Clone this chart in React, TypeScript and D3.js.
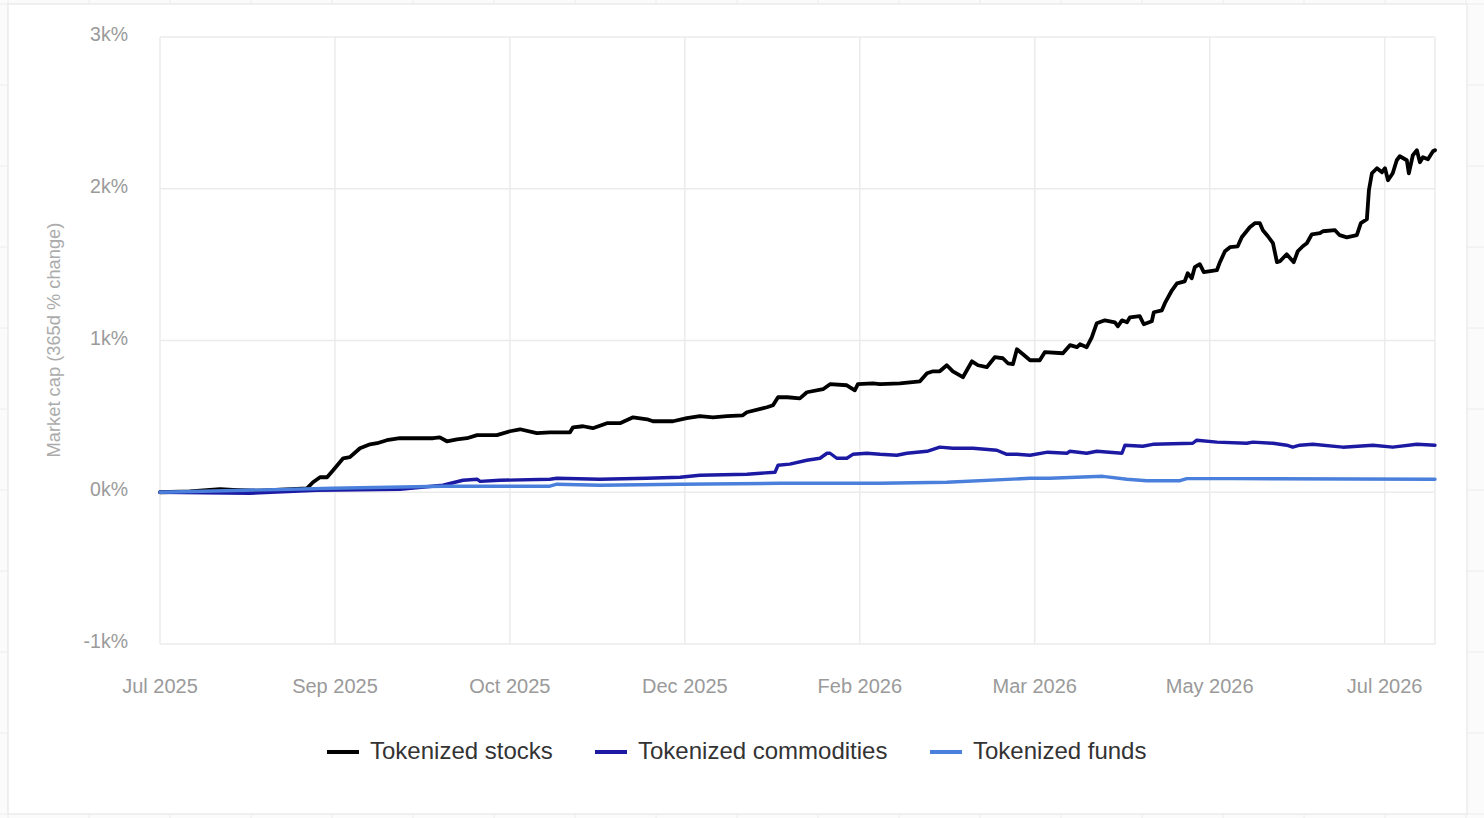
import React from "react";
import * as d3 from "d3";

// ---- data (day offset from 2025-07-01, value in %) ----
const stocksDays = [0,8.9,17.9,21.8,29.8,43.8,45.6,47.7,49.8,51.6,54.6,56.6,59.6,62.6,64.7,67.6,71.5,76.6,81.4,83.4,85.5,88.5,91.5,94.5,100.4,104.3,107.3,112.3,116.2,122.2,123.1,126.1,129.0,133.2,137.1,141.0,145.2,146.9,152.9,157.0,160.9,164.8,169.0,173.7,174.9,180.9,182.7,184.2,187.0,190.7,192.8,197.6,199.7,204.7,207.1,208.0,212.5,214.6,220.5,226.5,228.6,230.4,232.4,234.5,236.3,239.3,242.0,243.8,246.4,248.8,251.2,252.7,254.2,255.4,257.2,259.3,262.2,263.7,269.1,271.2,273.3,274.2,276.2,277.7,279.2,281.6,284.6,285.5,286.7,288.2,289.1,292.0,293.2,295.6,296.2,298.6,299.5,301.6,303.1,305.4,306.3,307.5,308.4,309.9,311.1,315.0,315.9,317.4,318.9,321.2,322.4,324.8,326.3,327.8,328.7,330.2,331.7,332.9,333.8,335.8,337.9,339.1,340.6,341.8,343.3,345.7,346.6,350.2,351.6,353.7,356.7,357.9,359.7,360.3,361.2,362.7,364.2,365.1,366.0,367.4,368.6,369.5,371.6,372.2,373.4,374.6,375.5,376.4,377.9,379.4,380.0];
const stocksValues = [0,5,20,16,10,26,66,99,99,145,224,231,290,316,323,343,356,356,356,362,336,349,356,376,376,402,415,389,395,395,428,435,422,455,455,494,481,468,468,488,501,494,501,507,527,560,573,626,626,619,659,679,712,705,672,712,718,712,718,731,784,797,797,837,797,758,863,837,824,890,883,850,844,942,909,870,870,923,916,969,956,975,956,1021,1114,1133,1120,1094,1133,1120,1153,1160,1107,1127,1186,1199,1246,1331,1377,1390,1443,1410,1483,1503,1450,1463,1516,1588,1615,1621,1680,1746,1773,1773,1727,1687,1641,1516,1522,1568,1516,1588,1621,1641,1700,1707,1720,1727,1694,1680,1694,1773,1799,1990,2102,2135,2109,2135,2056,2102,2188,2214,2188,2102,2221,2254,2175,2208,2194,2247,2254];

const commoditiesDays = [0,26.8,46.8,71.5,84.3,90.3,94.5,95.4,101.3,116.2,118.3,131.1,145.1,155.0,160.9,174.9,183.3,184.2,187.7,192.8,196.7,198.8,199.7,201.7,204.7,206.5,210.7,214.6,219.6,222.6,228.6,232.4,236.3,242.3,249.4,252.4,255.4,259.3,264.6,270.3,271.2,276.2,279.2,286.7,287.6,292.9,295.9,307.8,309.0,315.0,323.9,325.7,331.7,335.8,337.6,339.7,343.6,352.5,361.5,367.4,374.6,380.0];
const commoditiesValues = [0,-7,13,20,46,79,86,72,79,86,92,86,92,99,112,119,132,178,185,211,224,257,257,224,224,250,257,250,244,257,270,297,290,290,277,250,250,244,264,257,270,257,270,257,310,303,316,323,343,330,323,330,323,310,297,310,316,297,310,297,316,310];

const fundsDays = [0,51.6,84.3,95.4,116.2,118.3,131.1,155.0,184.8,214.6,234.5,259.3,265.2,281.0,288.2,294.1,304.0,306.0,319.8,380.0];
const fundsValues = [0,26,40,40,40,53,46,53,59,59,66,92,92,105,86,76,76,90,90,86];

const seriesNames = ["Tokenized stocks", "Tokenized commodities", "Tokenized funds"];
const seriesColors = ["#000000", "#1c1aa3", "#4a7fdb"];

const xTickLabels = ["Jul 2025", "Sep 2025", "Oct 2025", "Dec 2025", "Feb 2026", "Mar 2026", "May 2026", "Jul 2026"];
const yTicks = [-1000, 0, 1000, 2000, 3000];
const yAxisTitle = "Market cap (365d % change)";

const startDate = new Date(2025, 6, 1);
const endDay = 380;
const tickStepDays = 365 / 7;

const W = 1484;
const H = 818;
const plot = { left: 160, right: 1435, top: 37, bottom: 644 };
const FONT = "'Liberation Sans', Arial, Helvetica, sans-serif";

const toDate = (d: number) => new Date(startDate.getTime() + d * 86400000);

export default function App() {
  const x = d3
    .scaleTime()
    .domain([startDate, toDate(endDay)])
    .range([plot.left, plot.right]);
  const y = d3.scaleLinear().domain([-1000, 3000]).range([plot.bottom, plot.top]);

  const xTicks = xTickLabels.map((label, i) => ({ label, date: toDate(i * tickStepDays) }));

  const series = [
    { days: stocksDays, values: stocksValues, width: 3.8 },
    { days: commoditiesDays, values: commoditiesValues, width: 3.4 },
    { days: fundsDays, values: fundsValues, width: 3.4 },
  ];

  const line = d3
    .line<[number, number]>()
    .x((p) => x(toDate(p[0])))
    .y((p) => y(p[1]))
    .curve(d3.curveLinear);

  // outer background grid
  const bgStep = 81;
  const bgV = d3.range(8, W, bgStep);
  const bgH = d3.range(4, H, bgStep);

  const legendItems = [
    { name: seriesNames[0], color: seriesColors[0], x: 327 },
    { name: seriesNames[1], color: seriesColors[1], x: 595 },
    { name: seriesNames[2], color: seriesColors[2], x: 930 },
  ];

  return (
    <svg
      width={W}
      height={H}
      style={{ position: "absolute", left: 0, top: 0, background: "#fbfbfb" }}
      fontFamily={FONT}
    >
      {bgV.map((v, i) => (
        <line key={"bv" + i} x1={v} x2={v} y1={0} y2={H} stroke="#ececec" strokeWidth={1} />
      ))}
      {bgH.map((v, i) => (
        <line key={"bh" + i} x1={0} x2={W} y1={v} y2={v} stroke="#ececec" strokeWidth={1} />
      ))}
      <rect x={8} y={4} width={1459} height={810} fill="#ffffff" stroke="#ececec" strokeWidth={1.5} />

      {/* grid */}
      {yTicks.map((t) => (
        <line
          key={"gy" + t}
          x1={plot.left}
          x2={plot.right}
          y1={y(t)}
          y2={y(t)}
          stroke="#ebebeb"
          strokeWidth={1.5}
        />
      ))}
      {xTicks.map((t, i) => (
        <line
          key={"gx" + i}
          x1={x(t.date)}
          x2={x(t.date)}
          y1={plot.top}
          y2={plot.bottom}
          stroke="#ebebeb"
          strokeWidth={1.5}
        />
      ))}
      <line x1={plot.right} x2={plot.right} y1={plot.top} y2={plot.bottom} stroke="#ebebeb" strokeWidth={1.5} />

      {/* y tick labels */}
      {yTicks.map((t) => (
        <text
          key={"ty" + t}
          x={128}
          y={y(t) - 1}
          textAnchor="end"
          dominantBaseline="middle"
          fontSize={19.5}
          fill="#9a9a9a"
        >
          {`${t / 1000}k%`}
        </text>
      ))}

      {/* x tick labels */}
      {xTicks.map((t, i) => (
        <text
          key={"tx" + i}
          x={x(t.date)}
          y={687.5}
          textAnchor="middle"
          dominantBaseline="middle"
          fontSize={20}
          fill="#9a9a9a"
        >
          {t.label}
        </text>
      ))}

      {/* y axis title */}
      <text
        transform={`translate(55,340) rotate(-90)`}
        textAnchor="middle"
        dominantBaseline="middle"
        fontSize={18.3}
        fill="#ababab"
      >
        {yAxisTitle}
      </text>

      {/* lines: stocks bottom, funds on top */}
      {[0, 1, 2].map((i) => {
        const s = series[i];
        const pts = s.days.map((d, k) => [d, s.values[k]] as [number, number]);
        return (
          <path
            key={"s" + i}
            d={line(pts) || ""}
            fill="none"
            stroke={seriesColors[i]}
            strokeWidth={s.width}
            strokeLinejoin="round"
            strokeLinecap="round"
          />
        );
      })}

      {/* legend */}
      {legendItems.map((it, i) => (
        <g key={"lg" + i}>
          <line x1={it.x} x2={it.x + 32} y1={752} y2={752} stroke={it.color} strokeWidth={4} />
          <text x={it.x + 43} y={752.5} dominantBaseline="middle" fontSize={24} fill="#333333">
            {it.name}
          </text>
        </g>
      ))}
    </svg>
  );
}
